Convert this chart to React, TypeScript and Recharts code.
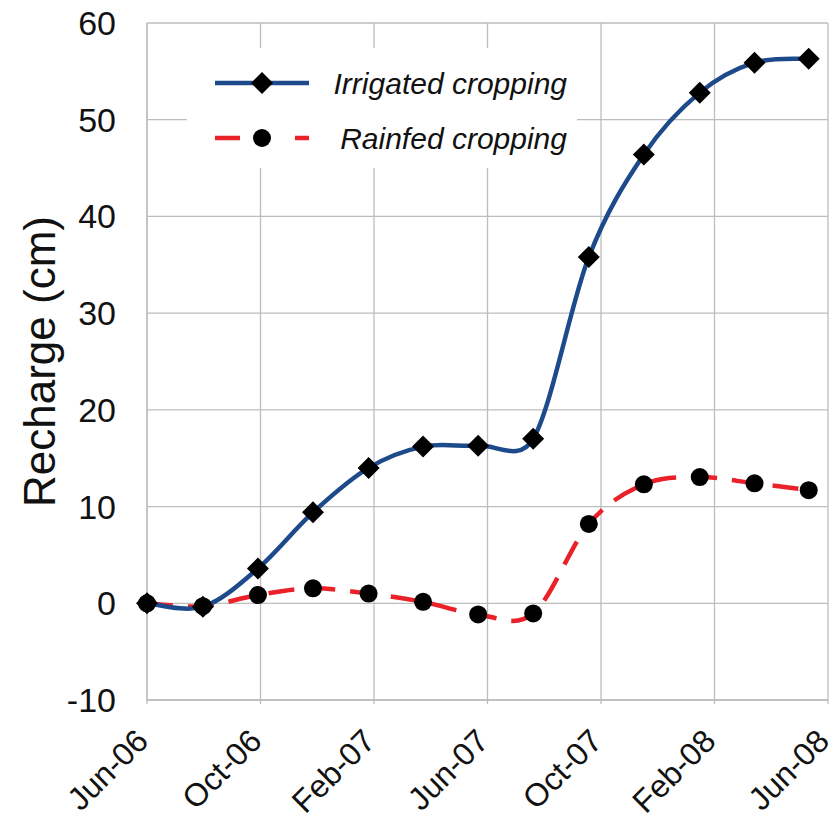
import { LineChart, Line, XAxis, YAxis, CartesianGrid, Legend } from 'recharts';

// months since Jun-06 for each sample
const months = [0, 1.97, 3.91, 5.85, 7.81, 9.73, 11.67, 13.61, 15.57, 17.51, 19.48, 21.41, 23.32];
const irrigated = [0, -0.35, 3.6, 9.4, 14.0, 16.2, 16.3, 17.0, 35.8, 46.4, 52.8, 55.9, 56.3];
const rainfed = [0, -0.3, 0.85, 1.55, 1.0, 0.15, -1.15, -1.05, 8.2, 12.3, 13.05, 12.4, 11.7];

const tickMonths = [0, 4, 8, 12, 16, 20, 24];
const tickLabels = ['Jun-06', 'Oct-06', 'Feb-07', 'Jun-07', 'Oct-07', 'Feb-08', 'Jun-08'];
const yTicks = [-10, 0, 10, 20, 30, 40, 50, 60];

const data = months.map((m, i) => ({ m, irrigated: irrigated[i], rainfed: rainfed[i] }));

const BLUE = '#1d4a8a';
const RED = '#ea2128';
const GRID = '#bdbdbd';
const FONT = '"Liberation Sans", Arial, sans-serif';

const dist = (a: number[], b: number[]) => Math.hypot(b[0] - a[0], b[1] - a[1]);

// excel style smoothed line: catmull-rom bezier with arms capped at half the segment
const smooth = (context: any) => {
  let pts: number[][] = [];
  return {
    areaStart() {},
    areaEnd() {},
    lineStart() {
      pts = [];
    },
    point(x: number, y: number) {
      pts.push([+x, +y]);
    },
    lineEnd() {
      const n = pts.length;
      if (!n) return;
      context.moveTo(pts[0][0], pts[0][1]);
      for (let i = 0; i < n - 1; i++) {
        const p0 = pts[Math.max(i - 1, 0)];
        const p1 = pts[i];
        const p2 = pts[i + 1];
        const p3 = pts[Math.min(i + 2, n - 1)];
        const d12 = dist(p1, p2);
        const d02 = dist(p0, p2);
        const d13 = dist(p1, p3);
        const f1 = d02 === 0 ? 0 : d02 / 6 < d12 / 2 ? 1 / 6 : d12 / (2 * d02);
        const f2 = d13 === 0 ? 0 : d13 / 6 < d12 / 2 ? 1 / 6 : d12 / (2 * d13);
        context.bezierCurveTo(
          p1[0] + (p2[0] - p0[0]) * f1,
          p1[1] + (p2[1] - p0[1]) * f1,
          p2[0] - (p3[0] - p1[0]) * f2,
          p2[1] - (p3[1] - p1[1]) * f2,
          p2[0],
          p2[1]
        );
      }
    },
  };
};

const diamondPath = (cx: number, cy: number, r = 11) =>
  `M${cx},${cy - r}L${cx + r},${cy}L${cx},${cy + r}L${cx - r},${cy}Z`;

const Diamond = (props: any) => {
  const { cx, cy, index } = props;
  if (cx == null || cy == null) return <g key={`dm-${index}`} />;
  return <path key={`dm-${index}`} d={diamondPath(cx, cy)} fill="#000" />;
};

const Dot = (props: any) => {
  const { cx, cy, index } = props;
  if (cx == null || cy == null) return <g key={`dt-${index}`} />;
  return <circle key={`dt-${index}`} cx={cx} cy={cy} r={9} fill="#000" />;
};

const XTick = (props: any) => {
  const { x, y, payload } = props;
  const idx = tickMonths.indexOf(payload.value);
  return (
    <g transform={`translate(${x + 3},${y + 37})`}>
      <text textAnchor="end" transform="rotate(-45)" fontSize={32} fontFamily={FONT} fill="#111">
        {tickLabels[idx]}
      </text>
    </g>
  );
};

const LegendBox = () => (
  <svg width={390} height={120} style={{ display: 'block', background: '#fff' }}>
    <line x1={28} x2={122} y1={35} y2={35} stroke={BLUE} strokeWidth={4.5} />
    <path d={diamondPath(75, 35)} fill="#000" />
    <text
      x={380}
      y={35}
      dy="0.36em"
      textAnchor="end"
      fontSize={30}
      fontStyle="italic"
      fontFamily={FONT}
      fill="#111"
    >
      Irrigated cropping
    </text>
    <line x1={28} x2={122} y1={90} y2={90} stroke={RED} strokeWidth={4.5} strokeDasharray="25 55 14" />
    <circle cx={75} cy={90} r={9} fill="#000" />
    <text
      x={380}
      y={90}
      dy="0.36em"
      textAnchor="end"
      fontSize={30}
      fontStyle="italic"
      fontFamily={FONT}
      fill="#111"
    >
      Rainfed cropping
    </text>
  </svg>
);

export default function App() {
  return (
    <div style={{ position: 'absolute', left: 0, top: 0, background: '#fff' }}>
      <LineChart width={836} height={825} data={data} margin={{ top: 23, right: 8, bottom: 25, left: 0 }}>
        <CartesianGrid stroke={GRID} strokeWidth={1.3} />
        <XAxis
          type="number"
          dataKey="m"
          domain={[0, 24]}
          ticks={tickMonths}
          interval={0}
          height={100}
          tick={<XTick />}
          tickSize={4}
          tickLine={{ stroke: GRID, strokeWidth: 1.3 }}
          axisLine={{ stroke: GRID, strokeWidth: 1.3 }}
        />
        <YAxis
          type="number"
          domain={[-10, 60]}
          ticks={yTicks}
          interval={0}
          width={147}
          tickLine={false}
          tickSize={0}
          tickMargin={31}
          axisLine={{ stroke: GRID, strokeWidth: 1.3 }}
          tick={{ fontSize: 34, fill: '#111', fontFamily: FONT }}
          label={{
            value: 'Recharge (cm)',
            angle: -90,
            position: 'center',
            dx: -34,
            fontSize: 44,
            fill: '#111',
            fontFamily: FONT,
          }}
        />
        <Legend
          layout="horizontal"
          verticalAlign="middle"
          align="center"
          content={<LegendBox />}
          wrapperStyle={{ left: 187, top: 48, width: 390, height: 120 }}
        />
        <Line
          type={smooth as any}
          dataKey="rainfed"
          stroke={RED}
          strokeWidth={4.5}
          strokeDasharray="26 15"
          dot={Dot}
          activeDot={false}
          isAnimationActive={false}
        />
        <Line
          type={smooth as any}
          dataKey="irrigated"
          stroke={BLUE}
          strokeWidth={4.5}
          dot={Diamond}
          activeDot={false}
          isAnimationActive={false}
        />
      </LineChart>
    </div>
  );
}
